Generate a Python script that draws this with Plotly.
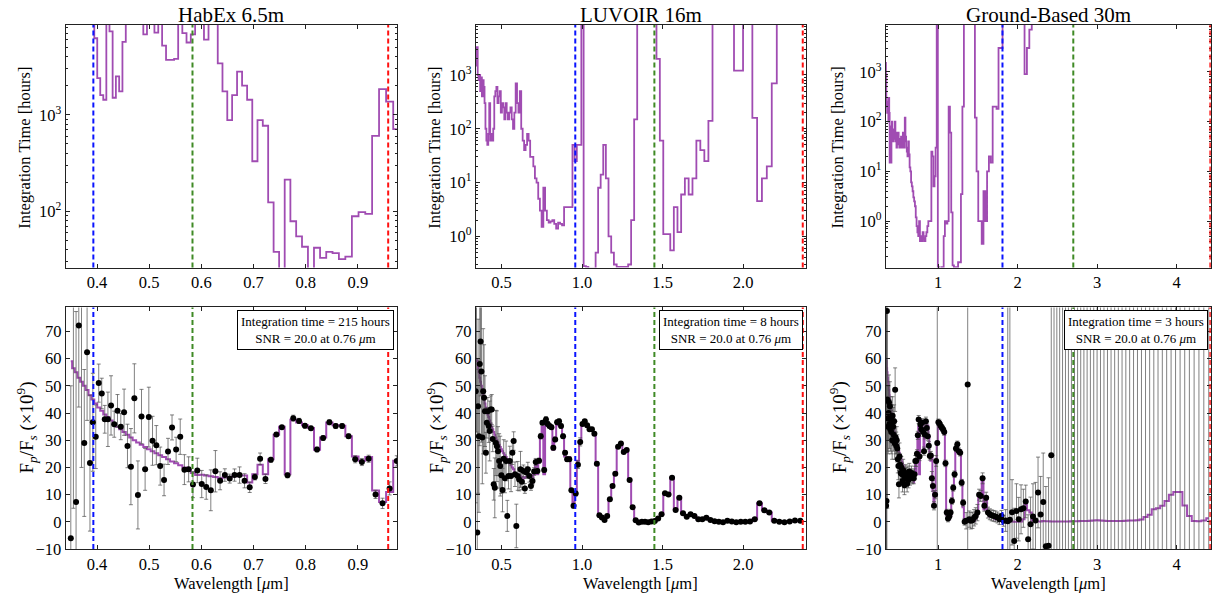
import plotly.graph_objects as go
from plotly.subplots import make_subplots

# ---------------------------------------------------------------------------
# Shared spectral grid [um] and the noise-free planet spectrum Fp/Fs (x1e9)
# ---------------------------------------------------------------------------
wavelength = [
    0.3400, 0.3449, 0.3498, 0.3548, 0.3599, 0.3651, 0.3703, 0.3756, 0.3810, 0.3865,
    0.3920, 0.3976, 0.4033, 0.4091, 0.4149, 0.4209, 0.4269, 0.4330, 0.4393, 0.4456,
    0.4519, 0.4584, 0.4650, 0.4716, 0.4784, 0.4853, 0.4922, 0.4993, 0.5064, 0.5137,
    0.5211, 0.5285, 0.5361, 0.5438, 0.5516, 0.5595, 0.5675, 0.5756, 0.5839, 0.5922,
    0.6007, 0.6093, 0.6181, 0.6269, 0.6359, 0.6450, 0.6543, 0.6636, 0.6732, 0.6828,
    0.6926, 0.7025, 0.7126, 0.7228, 0.7332, 0.7437, 0.7543, 0.7651, 0.7761, 0.7872,
    0.7985, 0.8100, 0.8216, 0.8333, 0.8453, 0.8574, 0.8697, 0.8821, 0.8948, 0.9076,
    0.9206, 0.9338, 0.9472, 0.9608, 0.9745, 0.9885, 1.0027, 1.0170, 1.0316, 1.0464,
    1.0614, 1.0766, 1.0920, 1.1077, 1.1236, 1.1397, 1.1560, 1.1726, 1.1894, 1.2064,
    1.2237, 1.2413, 1.2590, 1.2771, 1.2954, 1.3140, 1.3328, 1.3519, 1.3713, 1.3909,
    1.4109, 1.4311, 1.4516, 1.4724, 1.4935, 1.5149, 1.5366, 1.5586, 1.5810, 1.6036,
    1.6266, 1.6499, 1.6736, 1.6975, 1.7219, 1.7466, 1.7716, 1.7970, 1.8227, 1.8489,
    1.8754, 1.9022, 1.9295, 1.9571, 1.9852, 2.0136, 2.0425, 2.0718, 2.1015, 2.1316,
    2.1621, 2.1931, 2.2245, 2.2564, 2.2888, 2.3216, 2.3548, 2.3886, 2.4228, 2.4576,
    2.4928, 2.5285, 2.5647, 2.6015, 2.6388, 2.6766, 2.7150, 2.7539, 2.7933, 2.8334,
    2.8740, 2.9152, 2.9569, 2.9993, 3.0423, 3.0859, 3.1301, 3.1750, 3.2205, 3.2667,
    3.3135, 3.3610, 3.4091, 3.4580, 3.5076, 3.5578, 3.6088, 3.6605, 3.7130, 3.7662,
    3.8202, 3.8749, 3.9305, 3.9868, 4.0439, 4.1019, 4.1607, 4.2203, 4.2808, 4.3422,
    4.4044,
]

planet_model = [
    60.0, 59.5, 59.0, 56.5, 55.0, 53.0, 51.5, 50.0, 48.5, 46.5,
    45.0, 43.5, 42.0, 40.8, 39.5, 38.5, 37.3, 36.2, 35.0, 34.0,
    33.0, 32.0, 31.0, 30.0, 29.2, 28.3, 27.5, 26.7, 26.0, 25.2,
    24.5, 23.8, 23.0, 22.2, 21.5, 20.8, 20.0, 19.3, 18.0, 17.2,
    17.3, 17.0, 16.8, 16.5, 16.0, 16.3, 16.5, 16.8, 17.0, 17.0,
    14.5, 17.5, 21.0, 17.5, 23.0, 32.0, 35.0, 17.5, 37.5, 36.5,
    35.5, 34.5, 26.5, 31.0, 36.5, 35.5, 35.3, 31.5, 24.0, 22.5,
    23.8, 11.5, 7.3, 11.0, 22.5, 29.5, 35.5, 37.0, 35.0, 34.0,
    33.5, 32.5, 21.5, 2.5, 1.5, 1.0, 2.2, 8.3, 13.2, 17.7,
    27.5, 28.8, 25.8, 26.4, 15.4, 5.4, 0.6, 0.1, 0.0, 0.0,
    0.0, 0.1, 0.3, 1.2, 2.8, 10.5, 10.1, 16.2, 4.5, 8.9,
    3.2, 2.0, 2.8, 2.2, 1.0, 1.1, 1.5, 0.7, 0.3, 0.1,
    0.0, 0.2, 0.1, 0.0, 0.0, 0.0, 0.1, 1.0, 6.8, 4.3,
    3.4, 0.4, 0.2, 0.1, 0.1, 0.3, 0.2, 0.2, 0.1, 0.1,
    0.1, 0.1, 0.1, 0.1, 0.1, 0.2, 0.2, 0.2, 0.3, 0.3,
    0.3, 0.4, 0.5, 0.6, 0.5, 0.4, 0.3, 0.3, 0.3, 0.3,
    0.3, 0.4, 0.5, 0.5, 0.6, 0.9, 1.8, 2.6, 4.6, 5.0,
    5.9, 7.7, 10.0, 11.0, 11.0, 6.0, 2.2, 0.3, 0.2, 0.5,
    1.3,
]

# ---------------------------------------------------------------------------
# HabEx 6.5m  (grid points 2..74)
# ---------------------------------------------------------------------------
habex_tint = [
    1e5, 1e5, 1e5, 1e5, 1e5, 1e5, 1e5, 1e5, 1e5, 6200,
    2400, 1600, 1430, 1e5, 7300, 1500, 2500, 1750, 5700, 1e5,
    1e5, 1e5, 1e5, 1e5, 6800, 1e5, 1e5, 7100, 1e5, 5200,
    3700, 3700, 3800, 1e5, 7000, 5600, 6800, 1e5, 1e5, 6000,
    1e5, 1e5, 3400, 1750, 880, 1600, 2800, 2000, 1430, 330,
    880, 770, 124, 38, 20, 213, 79, 55, 43, 25,
    42, 33, 38, 37, 32, 34, 89, 98, 94, 606,
    1840, 1370, 710,
]
habex_obs = [
    -6.0, 90.0, 7.3, 72.2, 95.0, 29.0, 62.3, 21.6, 36.6, 31.3,
    51.0, 47.2, 37.7, 37.7, 42.8, 35.9, 40.8, 35.0, 40.3, 27.9,
    20.3, 45.4, 9.9, 38.7, 19.3, 38.5, 29.8, 28.2, 20.5, 15.4,
    25.9, 34.7, 26.6, 31.3, 19.2, 19.3, 13.7, 18.9, 13.9, 12.8,
    11.6, 18.6, 15.1, 17.2, 15.9, 17.2, 17.2, 15.1, 12.7, 16.5,
    23.2, 15.8, 22.8, 32.1, 34.8, 17.1, 38.1, 37.1, 35.3, 34.4,
    26.6, 30.8, 36.6, 35.2, 35.2, 31.5, 23.0, 22.0, 23.2, 10.1,
    6.8, 12.3, 22.4,
]
habex_err = [
    56, 85, 70, 30, 75, 27, 25, 25, 18, 11.7,
    7.0, 5.6, 5.1, 10, 10.9, 4.8, 6.0, 4.8, 8.5, 8,
    14, 12.7, 12.5, 10, 7.7, 11, 9, 7.2, 7, 5.8,
    4.8, 4.6, 4.5, 6.5, 5.5, 4.6, 4.8, 4.5, 5, 4.5,
    7.5, 7.6, 3.3, 2.3, 1.65, 2.25, 3.0, 2.6, 1.9, 1.1,
    2.1, 1.7, 0.9, 0.7, 0.5, 0.9, 1.1, 0.95, 0.85, 0.7,
    0.85, 0.85, 0.9, 0.9, 0.85, 0.85, 1.3, 1.3, 1.3, 1.5,
    1.9, 2.4, 1.9,
]

# ---------------------------------------------------------------------------
# LUVOIR 16m  (grid points 0..136)
# ---------------------------------------------------------------------------
luvoir_tint = [
    1500, 2000, 3300, 1000, 800, 1000, 500, 900, 400, 800,
    600, 300, 100, 60, 50, 80, 300, 60, 80, 60,
    100, 400, 500, 600, 300, 400, 500, 200, 300, 250,
    150, 300, 200, 150, 200, 250, 150, 100, 200, 700,
    300, 200, 500, 100, 60, 40, 50, 80, 60, 30,
    30, 20, 12, 10, 5, 3, 1.5, 8, 3, 2,
    1.8, 1.9, 2.0, 1.7, 1.4, 1.8, 1.7, 1.6, 3.5, 3.5,
    3.5, 3.5, 50, 25, 50, 50, 1e5, 0.28, 0.27, 0.25,
    0.25, 0.25, 0.5, 8, 14, 50, 12, 1, 0.5, 0.3,
    0.27, 0.27, 0.27, 0.27, 0.3, 2, 150, 1e5, 1e5, 1e5,
    1e5, 1e5, 1e5, 2000, 60, 1.1, 1.1, 0.55, 3.5, 1.2,
    6, 12, 6, 12, 60, 40, 25, 140, 1e5, 1e5,
    1e5, 1e5, 1e5, 1200, 1200, 1e5, 1e5, 160, 4.5, 12,
    20, 700, 1e5, 1e5, 1e5, 1e5, 1e5,
]
luvoir_obs = [
    48.0, 80.0, -3.9, 42.5, 31.5, 58.0, 66.3, 55.3, 31.0, 48.0,
    45.6, 40.7, 25.4, 36.4, 40.7, 35.2, 33.4, 41.3, 41.3, 30.5,
    13.8, 12.5, 29.0, 27.8, 26.0, 22.4, 20.5, 17.1, 11.7, 23.2,
    16.0, 22.4, 2.2, 16.9, 22.4, 16.9, 25.4, 29.7, 17.5, -1.5,
    16.9, 15.6, 19.3, 14.7, 18.7, 12.3, 18.1, 19.3, 16.9, 13.2,
    15.0, 18.5, 22.0, 18.7, 22.5, 31.5, 36.4, 19.1, 37.6, 36.0,
    35.2, 34.8, 27.2, 30.3, 36.6, 37.0, 35.2, 31.5, 25.4, 23.0,
    23.0, 11.6, 5.9, 10.4, 21.0, 29.4, 36.0, 37.0, 35.5, 34.0,
    34.0, 32.4, 21.4, 2.4, 1.6, 0.7, 2.2, 8.3, 13.2, 17.7,
    27.6, 28.8, 25.7, 26.4, 15.4, 5.4, 0.6, -0.2, 0.0, 0.0,
    -0.1, 0.1, 0.3, 1.2, 2.8, 10.5, 10.1, 16.2, 4.4, 8.9,
    3.2, 1.9, 2.8, 2.2, 1.0, 1.0, 1.5, 0.7, 0.25, 0.0,
    -0.1, 0.4, 0.1, -0.1, 0.0, 0.0, 0.1, 1.0, 6.8, 4.3,
    3.4, 0.4, 0.0, -0.1, 0.1, 0.5, 0.4,
]
luvoir_err = [
    41, 47, 60, 32, 28, 30, 20, 26, 17, 23,
    19.5, 13, 7.5, 5.6, 5, 6, 11, 5, 5.5, 4.7,
    5.8, 11, 12, 13, 9, 10, 11, 6.7, 8, 7,
    5.3, 7.3, 5.7, 4.8, 5.4, 5.8, 4.3, 3.4, 4.5, 8,
    5.3, 4.2, 6.6, 2.9, 2.2, 1.8, 2.1, 2.6, 2.3, 1.6,
    1.4, 1.4, 1.3, 1.0, 0.9, 1.0, 0.8, 0.9, 1.1, 0.9,
    0.8, 0.8, 0.8, 0.8, 0.8, 0.8, 0.8, 0.8, 0.8, 0.8,
    0.8, 0.4, 0.9, 0.9, 1.4, 1.5, 0.5, 0.5, 0.5, 0.5,
    0.5, 0.5, 0.5, 0.3, 0.3, 0.3, 0.3, 0.3, 0.4, 0.4,
    0.5, 0.5, 0.5, 0.5, 0.4, 0.3, 0.3, 0.3, 0.3, 0.3,
    0.3, 0.3, 0.3, 0.3, 0.3, 0.4, 0.4, 0.4, 0.3, 0.4,
    0.3, 0.3, 0.3, 0.3, 0.3, 0.3, 0.3, 0.3, 0.3, 0.3,
    0.3, 0.3, 0.3, 0.3, 0.3, 0.3, 0.3, 0.3, 0.4, 0.3,
    0.3, 0.3, 0.3, 0.3, 0.3, 0.3, 0.3,
]

# ---------------------------------------------------------------------------
# Ground-based 30m  (grid points 0..180)
# ---------------------------------------------------------------------------
ground_tint = [
    1500, 900, 300, 200, 150, 250, 200, 100, 300, 150,
    15, 20, 80, 15, 60, 100, 60, 40, 70, 50,
    45, 100, 40, 60, 30, 50, 35, 60, 40, 30,
    45, 35, 50, 30, 40, 60, 30, 40, 120, 50,
    30, 25, 20, 40, 22, 12, 10, 6, 5, 4,
    3, 2.5, 2, 1.2, 0.8, 0.6, 0.5, 1.0, 0.4, 0.5,
    0.4, 0.6, 0.45, 0.4, 0.5, 0.6, 0.8, 1.0, 1.0, 1.0,
    25, 20, 5, 8, 30, 1e5, 0.12, 0.11, 0.1, 0.12,
    0.12, 0.5, 1.0, 0.9, 1.0, 200, 60, 1.5, 0.13, 0.12,
    0.1, 0.12, 0.15, 0.15, 3.5, 200, 1e5, 1e5, 1e5, 1e5,
    1e5, 1e5, 1e5, 120, 10, 1, 1, 0.35, 4, 1,
    10, 20, 15, 200, 200, 180, 3000, 3000, 1e5, 1e5,
    1e5, 1e5, 1e5, 1e5, 1e5, 1e5, 1e5, 1e5, 900, 3000,
    7000, 1e5, 1e5, 1e5, 1e5, 1e5, 1e5, 1e5, 1e5, 1e5,
    1e5, 1e5, 1e5, 1e5, 1e5, 1e5, 1e5, 1e5, 1e5, 1e5,
    1e5, 1e5, 1e5, 1e5, 1e5, 1e5, 1e5, 1e5, 1e5, 1e5,
    1e5, 1e5, 1e5, 1e5, 1e5, 1e5, 1e5, 1e5, 1e5, 1e5,
    1e5, 1e5, 1e5, 1e5, 1e5, 1e5, 1e5, 1e5, 1e5, 1e5,
    1e5,
]
ground_obs = [
    80.0, 5.9, 7.7, 77.5, 45.0, 38.0, 35.0, 40.0, 44.0, 36.0,
    42.5, 34.0, 38.0, 33.0, 36.0, 30.0, 39.0, 35.0, 32.0, 37.0,
    29.0, 48.6, 31.0, 28.0, 30.0, 27.0, 23.0, 20.5, 13.8, 24.0,
    21.0, 18.0, 20.0, 17.5, 15.0, 19.0, 17.0, 13.5, 16.0, 18.0,
    17.0, 14.0, 17.5, 15.5, 18.5, 16.0, 17.0, 18.0, 16.5, 17.0,
    16.0, 17.5, 22.4, 22.4, 25.0, 31.8, 37.6, 24.0, 35.8, 34.0,
    36.4, 33.0, 26.0, 32.0, 37.0, 34.5, 31.5, 28.0, 24.2, 24.4,
    16.0, 13.2, 5.9, 10.0, 22.4, 29.0, 36.6, 36.2, 35.2, 34.6,
    34.0, 33.0, 21.5, 3.4, 1.2, 2.0, 3.4, 7.7, 12.5, 17.5,
    27.0, 28.5, 26.0, 25.4, 14.4, 7.0, 0.0, 0.4, 50.5, 1.0,
    0.4, 0.6, 1.5, 2.2, 3.4, 10.0, 9.5, 16.0, 5.9, 8.9,
    3.4, 2.8, 2.4, 2.2, 2.0, 1.6, 1.0, 2.2, 0.4, 0.5,
    0.2, 0.8, 3.5, -7.0, 4.0, 1.0, 4.6, 5.0, 7.5, -6.4,
    -0.9, 2.0, 0.5, 10.8, 2.7, 7.3, -9.0, -8.8, 24.5, 160,
    -130, 210, -95, 140, 260, -180, 120, -150, 300, 190,
    -110, 230, -200, 170, 130, -160, 250, 110, -140, 280,
    -120, 150, 220, -170, 135, -105, 195, 240, -190, 125,
    175, -135, 265, 145, -115, 205, 155, -185, 215, 115,
    180,
]
ground_err = [
    300, 300, 250, 200, 40, 12, 10, 10, 10, 9,
    9, 8, 8, 8, 7, 7, 7, 7, 6, 6,
    6, 8, 6, 5, 5, 5, 5, 5, 5, 5,
    4, 4, 4, 4, 4, 4, 3.5, 3.5, 3.5, 3,
    3, 3, 3, 3, 3, 2.5, 2.5, 2.5, 2.5, 2,
    2, 2, 2, 2, 1.5, 1.5, 1.5, 1.5, 1.5, 1.5,
    1.5, 1.5, 1.5, 1.5, 1.5, 1.5, 1.5, 1.5, 1.5, 1.5,
    2.5, 2, 1.5, 1.5, 2, 300, 1.2, 1.2, 1.2, 1.2,
    1.2, 1.2, 1.2, 1.2, 1.2, 1.2, 1.2, 1.2, 1.2, 1.2,
    1.2, 1.2, 1.2, 1.2, 1.2, 1.2, 1.2, 3, 300, 3,
    3, 3, 3, 3, 3, 2, 2, 2, 2, 2,
    2, 2, 2, 2, 2, 2, 2, 2, 2, 4,
    300, 300, 12, 12, 10, 8, 9, 7, 6, 9,
    10, 12, 14, 13, 14, 18, 22, 25, 120, 310,
    280, 360, 245, 290, 410, 330, 270, 300, 450, 340,
    260, 380, 350, 320, 280, 310, 400, 260, 290, 430,
    270, 300, 370, 320, 285, 255, 345, 390, 340, 275,
    325, 285, 415, 295, 265, 355, 305, 335, 365, 265,
    330,
]

# Short-, mid- and long-wavelength separation limits for each aperture [um]
habex_limits = [0.393, 0.583, 0.958]
luvoir_limits = [0.958, 1.449, 2.37]
ground_limits = [1.809, 2.70, 4.425]
limit_colors = ["#0a14ff", "#3f8a25", "#ff1010"]

telescope_names = ["HabEx 6.5m", "LUVOIR 16m", "Ground-Based 30m"]
exposure_hours = [215, 8, 3]
snr_target = 20.0
snr_wavelength = 0.76

# ---------------------------------------------------------------------------
SERIF = "Liberation Serif"
PURPLE = "#a04cb2"
ERR_COLOR = "rgba(75,75,75,0.7)"

panels = [
    dict(lo=2, hi=75, tint=habex_tint, obs=habex_obs, err=habex_err,
         limits=habex_limits, xrange=[0.34, 0.975],
         xticks=[0.4, 0.5, 0.6, 0.7, 0.8, 0.9], xfmt=".1f",
         trange=[1.418, 3.93], tdecades=[2, 3]),
    dict(lo=0, hi=137, tint=luvoir_tint, obs=luvoir_obs, err=luvoir_err,
         limits=luvoir_limits, xrange=[0.34, 2.39],
         xticks=[0.5, 1.0, 1.5, 2.0], xfmt=".1f",
         trange=[-0.58, 3.93], tdecades=[0, 1, 2, 3]),
    dict(lo=0, hi=181, tint=ground_tint, obs=ground_obs, err=ground_err,
         limits=ground_limits, xrange=[0.34, 4.43],
         xticks=[1, 2, 3, 4], xfmt="d",
         trange=[-0.93, 3.94], tdecades=[0, 1, 2, 3]),
]

# layout in pixels of the drawing area (width 1212, effective height 590)
PAPER_H = 590.0


def py(pixel_from_top):
    return 1.0 - pixel_from_top / PAPER_H


col_domains = [[0.0542, 0.3276], [0.3925, 0.6650], [0.7308, 0.9990]]
top_domain = [py(268), py(25)]
bottom_domain = [py(550), py(308)]

fig = make_subplots(rows=2, cols=3)

axis_common = dict(
    showline=True, linecolor="#222222", linewidth=1, mirror="allticks",
    ticks="inside", ticklen=4, tickwidth=1, tickcolor="#222222",
    showgrid=False, zeroline=False,
    tickfont=dict(family=SERIF, size=16.5, color="black"),
)

for c, p in enumerate(panels):
    wl = wavelength[p["lo"]:p["hi"]]
    model = planet_model[p["lo"]:p["hi"]]

    # integration time needed per spectral element
    fig.add_trace(go.Scatter(
        x=wl, y=p["tint"], mode="lines",
        line=dict(shape="hvh", color=PURPLE, width=1.8),
        showlegend=False, hoverinfo="skip"), row=1, col=c + 1)

    # model spectrum and simulated observation
    fig.add_trace(go.Scatter(
        x=wl, y=model, mode="lines",
        line=dict(shape="hvh", color=PURPLE, width=2),
        showlegend=False, hoverinfo="skip"), row=2, col=c + 1)
    fig.add_trace(go.Scatter(
        x=wl, y=p["obs"], mode="markers",
        marker=dict(color="black", size=6),
        error_y=dict(type="data", array=p["err"], visible=True,
                     color=ERR_COLOR, thickness=1.0, width=2),
        showlegend=False, hoverinfo="skip"), row=2, col=c + 1)

    top_ax = "" if c == 0 else str(c + 1)
    bot_ax = str(c + 4)

    decades = p["tdecades"]
    minor_vals = [m * 10.0 ** d for d in range(-1, 4) for m in range(2, 10)]
    fig.update_layout(**{
        f"xaxis{top_ax}": dict(axis_common, domain=col_domains[c], range=p["xrange"],
                                tickvals=p["xticks"], tickformat=p["xfmt"]),
        f"yaxis{top_ax}": dict(axis_common, domain=top_domain, type="log",
                                range=p["trange"],
                                tickvals=[10.0 ** d for d in decades],
                                ticktext=[f"10<sup>{d}</sup>" for d in decades],
                                minor=dict(tickvals=minor_vals, ticks="inside",
                                           ticklen=2, tickcolor="#222222", showgrid=False)),
        f"xaxis{bot_ax}": dict(axis_common, domain=col_domains[c], range=p["xrange"],
                                tickvals=p["xticks"], tickformat=p["xfmt"]),
        f"yaxis{bot_ax}": dict(axis_common, domain=bottom_domain, range=[-10, 78.8],
                                tickvals=[-10, 0, 10, 20, 30, 40, 50, 60, 70]),
    })

    # separation-limit markers in both rows
    for ax in (top_ax, bot_ax):
        for lam, col in zip(p["limits"], limit_colors):
            fig.add_shape(type="line", xref=f"x{ax}", yref=f"y{ax} domain",
                          x0=lam, x1=lam, y0=0, y1=1,
                          line=dict(color=col, width=2, dash="5px,3px"))

    x0, x1 = col_domains[c]
    xc = 0.5 * (x0 + x1)
    shift = 0.006 if c == 2 else 0.0

    fig.add_annotation(text=telescope_names[c], xref="paper", yref="paper",
                       x=xc, y=py(15), xanchor="center", yanchor="middle",
                       showarrow=False,
                       font=dict(family=SERIF, size=21, color="black"))
    fig.add_annotation(text="Wavelength [<i>μ</i>m]", xref="paper", yref="paper",
                       x=xc, y=py(584), xanchor="center", yanchor="middle",
                       showarrow=False,
                       font=dict(family=SERIF, size=16.5, color="black"))
    fig.add_annotation(text="Integration Time [hours]", xref="paper", yref="paper",
                       x=x0 - 0.0335 - shift, y=py(148),
                       xanchor="center", yanchor="middle",
                       textangle=-90, showarrow=False,
                       font=dict(family=SERIF, size=16.5, color="black"))
    fig.add_annotation(text="F<sub><i>p</i></sub>/F<sub><i>s</i></sub> (×10<sup>9</sup>)",
                       xref="paper", yref="paper",
                       x=x0 - 0.0325 - shift, y=py(428),
                       xanchor="center", yanchor="middle",
                       textangle=-90, showarrow=False,
                       font=dict(family=SERIF, size=19, color="black"))
    fig.add_annotation(
        text=(f"Integration time = {exposure_hours[c]} hours<br>"
              f"SNR = {snr_target:.1f} at {snr_wavelength:.2f} <i>μ</i>m"),
        xref=f"x{bot_ax} domain", yref=f"y{bot_ax} domain",
        x=0.99, y=0.99, xanchor="right", yanchor="top", align="center",
        showarrow=False, bgcolor="white", bordercolor="black", borderwidth=1,
        borderpad=3, font=dict(family=SERIF, size=13, color="black"))

fig.update_layout(
    width=1212, height=599,
    margin=dict(l=0, r=0, t=0, b=0),
    paper_bgcolor="white", plot_bgcolor="white",
    font=dict(family=SERIF, color="black"),
)

fig.write_html("out.html")
